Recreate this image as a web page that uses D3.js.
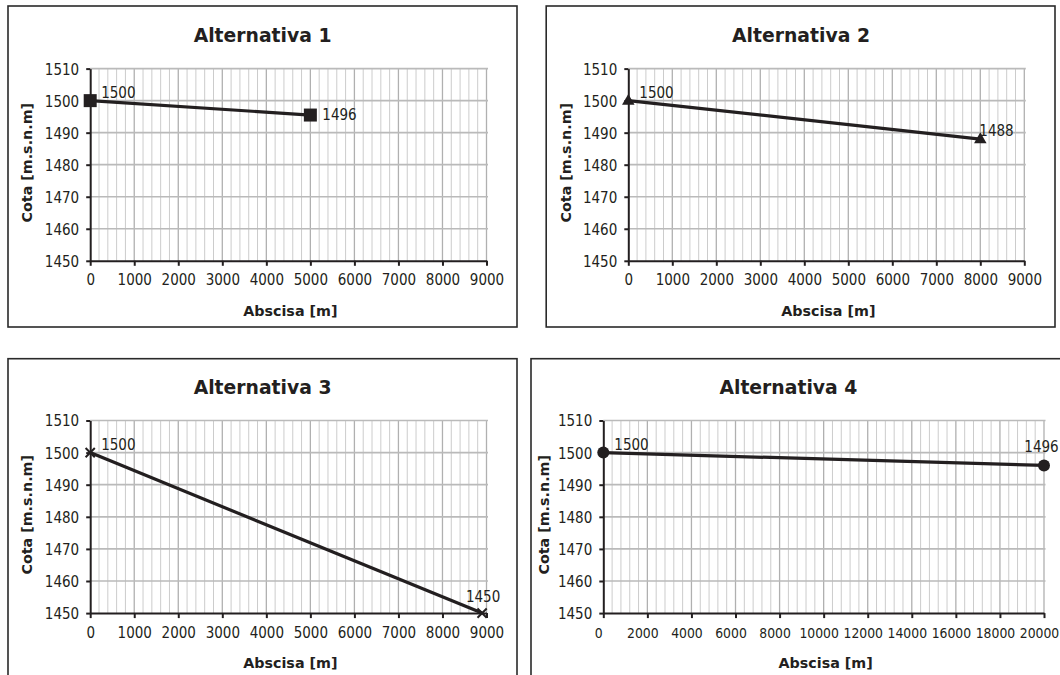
<!DOCTYPE html>
<html>
<head>
<meta charset="utf-8">
<script src="https://cdn.jsdelivr.net/npm/d3@7"></script>
<style>
  html, body { margin: 0; padding: 0; background: #fff; }
  svg { display: block; }
  .tick-label { font-family: "DejaVu Sans Condensed", "DejaVu Sans", sans-serif; font-size: 15px; fill: #231f20; }
  .title { font-family: "DejaVu Sans", sans-serif; font-weight: bold; font-size: 18.8px; fill: #231f20; }
  .axis-title { font-family: "DejaVu Sans", sans-serif; font-weight: bold; font-size: 14.3px; fill: #231f20; }
</style>
</head>
<body>
<svg id="chart" width="1060" height="675"></svg>
<script>
// ---------- DATA ----------
const titles = ["Alternativa 1", "Alternativa 2", "Alternativa 3", "Alternativa 4"];
const xAxisTitle = "Abscisa [m]";
const yAxisTitle = "Cota [m.s.n.m]";

const abscisa1 = [0, 5000];
const cota1    = [1500, 1495.5];
const abscisa2 = [0, 8000];
const cota2    = [1500, 1488];
const abscisa3 = [0, 8900];
const cota3    = [1500, 1450];
const abscisa4 = [0, 20000];
const cota4    = [1500, 1496];

const xTicksA = [0, 1000, 2000, 3000, 4000, 5000, 6000, 7000, 8000, 9000];
const xTicksB = [0, 2000, 4000, 6000, 8000, 10000, 12000, 14000, 16000, 18000, 20000];
const yTicks  = [1450, 1460, 1470, 1480, 1490, 1500, 1510];
const minorStepA = 200;
const minorStepB = 400;

// ---------- LAYOUT / STYLE ----------
const panels = [
  { title: titles[0], xs: abscisa1, ys: cota1, xTicks: xTicksA, minor: minorStepA, marker: "square",
    frame: [8, 6, 517, 327], px: [90.2, 486.5], py: [68.6, 260.8], titleX: 262.6, titleY: 42.2, yTitleX: 27,
    xLabelSize: 15, xLabelDx: 0, labelPos: ["aboveRight", "right"] },
  { title: titles[1], xs: abscisa2, ys: cota2, xTicks: xTicksA, minor: minorStepA, marker: "triangle",
    frame: [546.2, 6, 1055, 327], px: [628.3, 1024.3], py: [68.6, 260.8], titleX: 801, titleY: 42.2, yTitleX: 565.5,
    xLabelSize: 15, xLabelDx: 0, labelPos: ["aboveRight", "aboveStart"] },
  { title: titles[2], xs: abscisa3, ys: cota3, xTicks: xTicksA, minor: minorStepA, marker: "cross",
    frame: [8, 358.7, 517, 720], px: [90.2, 486.5], py: [420.5, 613.1], titleX: 262.6, titleY: 394.2, yTitleX: 27,
    xLabelSize: 15, xLabelDx: 0, labelPos: ["aboveRight", "above"] },
  { title: titles[3], xs: abscisa4, ys: cota4, xTicks: xTicksB, minor: minorStepB, marker: "circle",
    frame: [531, 358.7, 1090, 720], px: [603.3, 1044], py: [420.5, 613.1], titleX: 788.4, titleY: 394.2, yTitleX: 543.5,
    xLabelSize: 13.8, xLabelDx: -5, labelPos: ["aboveRight", "aboveHigh"] }
];

const ink = "#231f20";
const svg = d3.select("#chart");
const fmt = d3.format(".0f");

panels.forEach(p => {
  const g = svg.append("g");
  // frame
  g.append("rect")
    .attr("x", p.frame[0]).attr("y", p.frame[1])
    .attr("width", p.frame[2] - p.frame[0]).attr("height", p.frame[3] - p.frame[1])
    .attr("fill", "#fff").attr("stroke", "#2a2a2a").attr("stroke-width", 1.6);

  const xMax = p.xTicks[p.xTicks.length - 1];
  const x = d3.scaleLinear().domain([0, xMax]).range(p.px);
  const y = d3.scaleLinear().domain([yTicks[0], yTicks[yTicks.length - 1]]).range([p.py[1], p.py[0]]);

  // minor vertical gridlines
  const minorVals = d3.range(0, xMax + 1e-6, p.minor).filter(v => !p.xTicks.includes(v));
  g.append("g").selectAll("line").data(minorVals).join("line")
    .attr("x1", d => x(d)).attr("x2", d => x(d))
    .attr("y1", y.range()[1]).attr("y2", y.range()[0])
    .attr("stroke", "#cccccc").attr("stroke-width", 1);
  // major vertical gridlines
  g.append("g").selectAll("line").data(p.xTicks.slice(1)).join("line")
    .attr("x1", d => x(d)).attr("x2", d => x(d))
    .attr("y1", y.range()[1]).attr("y2", y.range()[0])
    .attr("stroke", "#b0b0b0").attr("stroke-width", 1.3);
  // horizontal gridlines
  g.append("g").selectAll("line").data(yTicks.slice(1)).join("line")
    .attr("x1", x.range()[0]).attr("x2", x.range()[1] + 1.5)
    .attr("y1", d => y(d)).attr("y2", d => y(d))
    .attr("stroke", "#bababa").attr("stroke-width", 1.7);

  // axes
  const xAxis = g.append("g")
    .attr("transform", `translate(0,${y.range()[0]})`)
    .call(d3.axisBottom(x).tickValues(p.xTicks).tickSize(5).tickSizeOuter(0).tickFormat(d3.format("d")));
  xAxis.select(".domain").attr("stroke", ink).attr("stroke-width", 2);
  xAxis.selectAll(".tick line").attr("stroke", ink).attr("stroke-width", 2);
  xAxis.selectAll(".tick text").attr("class", "tick-label").attr("y", 24.5).attr("dy", null)
    .attr("x", p.xLabelDx).attr("fill", ink).style("font-size", p.xLabelSize + "px");
  xAxis.attr("font-size", null).attr("font-family", null);

  const yAxis = g.append("g")
    .attr("transform", `translate(${x.range()[0]},0)`)
    .call(d3.axisLeft(y).tickValues(yTicks).tickSize(4).tickSizeOuter(0).tickFormat(d3.format("d")));
  yAxis.select(".domain").attr("stroke", ink).attr("stroke-width", 2);
  yAxis.selectAll(".tick line").attr("stroke", ink).attr("stroke-width", 2);
  yAxis.selectAll(".tick text").attr("class", "tick-label").attr("x", -11).attr("dy", "0.36em")
    .attr("fill", ink);
  yAxis.attr("font-size", null).attr("font-family", null);

  // titles
  g.append("text").attr("class", "title").attr("x", p.titleX).attr("y", p.titleY)
    .attr("text-anchor", "middle").text(p.title);
  g.append("text").attr("class", "axis-title")
    .attr("x", (x.range()[0] + x.range()[1]) / 2 + 2).attr("y", y.range()[0] + 55)
    .attr("text-anchor", "middle").text(xAxisTitle);
  const ycy = (y.range()[0] + y.range()[1]) / 2 - 2;
  g.append("text").attr("class", "axis-title")
    .attr("transform", `translate(${p.yTitleX + 5.2},${ycy}) rotate(-90)`)
    .attr("text-anchor", "middle").text(yAxisTitle);

  // series
  const pts = p.xs.map((v, i) => [v, p.ys[i]]);
  g.append("path").datum(pts)
    .attr("d", d3.line().x(d => x(d[0])).y(d => y(d[1])))
    .attr("fill", "none").attr("stroke", ink).attr("stroke-width", 3.2);

  const mg = g.append("g");
  pts.forEach(d => {
    const cx = x(d[0]), cy = y(d[1]);
    if (p.marker === "square") {
      mg.append("path").attr("transform", `translate(${cx},${cy})`)
        .attr("d", d3.symbol().type(d3.symbolSquare).size(169)()).attr("fill", ink);
    } else if (p.marker === "triangle") {
      mg.append("path").attr("transform", `translate(${cx},${cy + 0.5})`)
        .attr("d", d3.symbol().type(d3.symbolTriangle).size(68)()).attr("fill", ink);
    } else if (p.marker === "cross") {
      const r = 4.6;
      mg.append("path")
        .attr("d", `M${cx - r},${cy - r}L${cx + r},${cy + r}M${cx - r},${cy + r}L${cx + r},${cy - r}`)
        .attr("stroke", ink).attr("stroke-width", 2).attr("fill", "none");
    } else {
      mg.append("circle").attr("cx", cx).attr("cy", cy).attr("r", 6).attr("fill", ink);
    }
  });

  // data labels
  pts.forEach((d, i) => {
    const cx = x(d[0]), cy = y(d[1]);
    const pos = p.labelPos[i];
    const t = g.append("text").attr("class", "tick-label").text(fmt(d[1]));
    if (pos === "aboveRight") t.attr("x", cx + 11).attr("y", cy - 2.5);
    else if (pos === "right") t.attr("x", cx + 12).attr("y", cy + 4.5);
    else if (pos === "aboveStart") t.attr("x", cx - 1).attr("y", cy - 3.5);
    else if (pos === "above") t.attr("x", cx + 1).attr("y", cy - 11.5).attr("text-anchor", "middle");
    else t.attr("x", cx - 2.5).attr("y", cy - 13).attr("text-anchor", "middle");
  });
});
</script>
</body>
</html>
